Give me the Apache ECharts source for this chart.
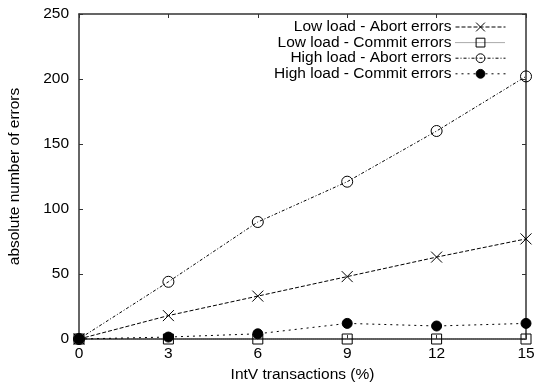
<!DOCTYPE html>
<html>
<head>
<meta charset="utf-8">
<script src="https://cdn.jsdelivr.net/npm/echarts@6/dist/echarts.min.js"></script>
<style>
  html, body { margin: 0; padding: 0; background: #fff; }
  #chart { width: 534px; height: 386px; }
</style>
</head>
<body>
<div id="chart"></div>
<script>
// IntV transaction share (%) on the x axis
const intvPercent = [0, 3, 6, 9, 12, 15];

// absolute number of errors per configuration
const lowLoadAbort = [0, 18, 33, 48, 63, 77];
const lowLoadCommit = [0, 0, 0, 0, 0, 0];
const highLoadAbort = [0, 44, 90, 121, 160, 202];
const highLoadCommit = [0, 1.5, 4, 12, 10, 12];

const xTicks = { min: 0, max: 15, step: 3 };
const yTicks = { min: 0, max: 250, step: 50 };

const seriesNames = [
  'Low load - Abort errors',
  'Low load - Commit errors',
  'High load - Abort errors',
  'High load - Commit errors'
];

const FONT = 'Liberation Sans, Arial, Helvetica, sans-serif';
const FONT_SIZE = 15.5;
const FRAME = '#333';
const crossPath = 'path://M0,0L10,10M10,0L0,10';

function pairs(values) {
  return intvPercent.map((x, i) => [x, values[i]]);
}

function lineSeries(name, values, symbol, symbolSize, dash, fill, lineColor) {
  return {
    name: name,
    type: 'line',
    data: pairs(values),
    symbol: symbol,
    symbolSize: symbolSize,
    clip: false,
    color: '#000',
    lineStyle: { color: lineColor || '#000', width: 1, type: dash },
    itemStyle: { color: fill, borderColor: '#000', borderWidth: 1 },
    emphasis: { disabled: true },
    animation: false
  };
}

const series = [
  lineSeries(seriesNames[0], lowLoadAbort, crossPath, 11, [4, 2], 'transparent'),
  lineSeries(seriesNames[1], lowLoadCommit, 'rect', 10, [1, 1], 'transparent', '#555'),
  lineSeries(seriesNames[2], highLoadAbort, 'circle', 11, [3, 2, 1, 2], 'transparent'),
  lineSeries(seriesNames[3], highLoadCommit, 'circle', 10, [2, 4], '#000')
];

// one legend block per entry so every row stays right-aligned
const legendRows = seriesNames.map((name, i) => ({
  data: [name],
  right: 28,
  top: 19 + i * 15.6,
  align: 'right',
  orient: 'vertical',
  itemWidth: 50,
  itemHeight: 11,
  padding: 0,
  selectedMode: false,
  itemStyle: { borderWidth: 1 },
  lineStyle: { width: 1 },
  textStyle: { fontFamily: FONT, fontSize: FONT_SIZE, color: '#000', padding: [0, -1, 0, 0] }
}));

const tickStyle = { show: true, inside: true, length: 4, lineStyle: { color: FRAME, width: 1 } };
const lineAxisStyle = { show: true, onZero: false, lineStyle: { color: FRAME, width: 1.5 } };

const option = {
  backgroundColor: '#fff',
  animation: false,
  grid: { left: 79, right: 8, top: 14, bottom: 47, containLabel: false, outerBoundsMode: 'none' },
  legend: legendRows,
  xAxis: [
    {
      type: 'value', min: xTicks.min, max: xTicks.max, interval: xTicks.step,
      position: 'bottom',
      name: 'IntV transactions (%)', nameLocation: 'middle', nameGap: 21,
      nameTextStyle: { fontFamily: FONT, fontSize: FONT_SIZE, color: '#000' },
      axisLine: lineAxisStyle, axisTick: tickStyle,
      axisLabel: { fontFamily: FONT, fontSize: FONT_SIZE, color: '#000', margin: 7 },
      splitLine: { show: false }
    },
    {
      type: 'value', min: xTicks.min, max: xTicks.max, interval: xTicks.step,
      position: 'top',
      axisLine: lineAxisStyle, axisTick: tickStyle,
      axisLabel: { show: false }, splitLine: { show: false }
    }
  ],
  yAxis: [
    {
      type: 'value', min: yTicks.min, max: yTicks.max, interval: yTicks.step,
      position: 'left',
      name: 'absolute number of errors', nameLocation: 'middle', nameGap: 56,
      nameTextStyle: { fontFamily: FONT, fontSize: FONT_SIZE, color: '#000' },
      axisLine: lineAxisStyle, axisTick: tickStyle,
      axisLabel: { fontFamily: FONT, fontSize: FONT_SIZE, color: '#000', margin: 10 },
      splitLine: { show: false }
    },
    {
      type: 'value', min: yTicks.min, max: yTicks.max, interval: yTicks.step,
      position: 'right',
      axisLine: lineAxisStyle, axisTick: tickStyle,
      axisLabel: { show: false }, splitLine: { show: false }
    }
  ],
  series: series
};

const chart = echarts.init(document.getElementById('chart'), null, { renderer: 'canvas' });
chart.setOption(option);
</script>
</body>
</html>
